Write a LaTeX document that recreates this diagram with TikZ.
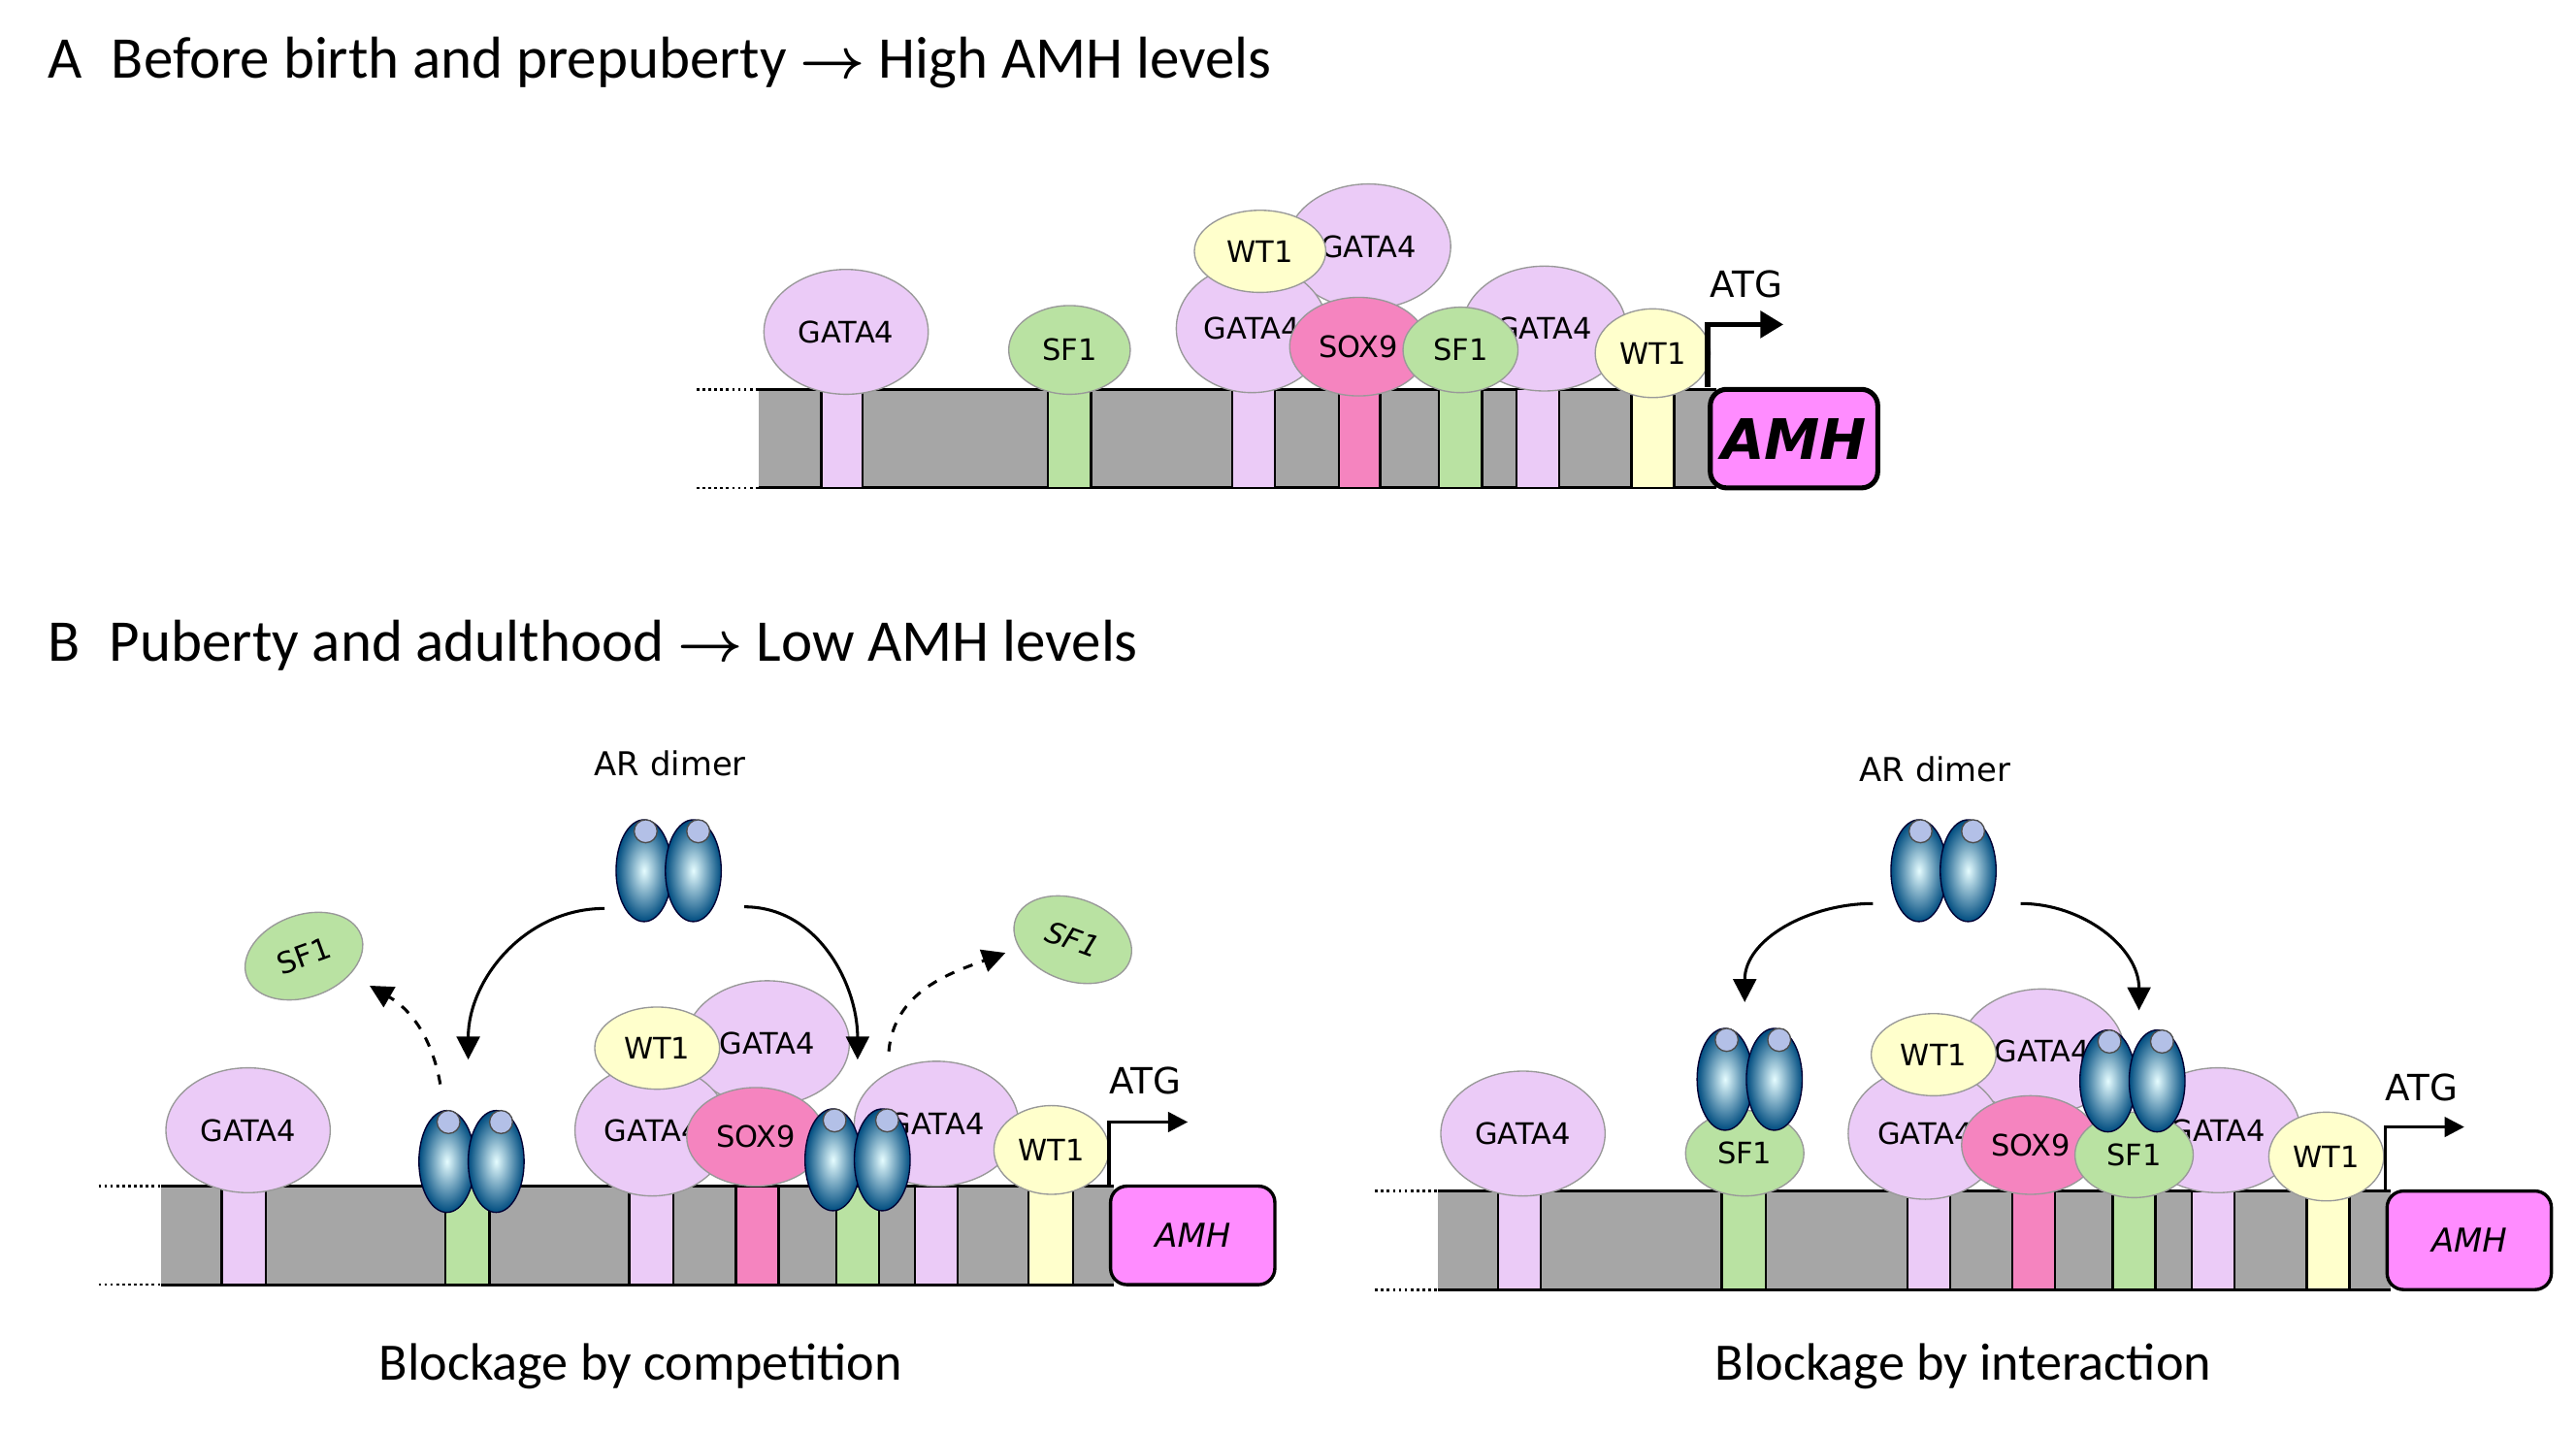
\documentclass[tikz,border=0pt]{standalone}
\usepackage{amsmath}
\usepackage{fontspec}
\setmainfont{Carlito}
\newfontfamily\lab{DejaVu Sans}
\usetikzlibrary{shapes.geometric,arrows.meta,positioning}
\definecolor{lav}{HTML}{EBCBF7}
\definecolor{grn}{HTML}{B9E2A2}
\definecolor{pnk}{HTML}{F584BF}
\definecolor{ylw}{HTML}{FFFFCC}
\definecolor{dna}{HTML}{A6A6A6}
\definecolor{amh}{HTML}{FF8CFF}
\tikzset{
  prot/.style={ellipse, draw=black!40, fill=#1, inner sep=0pt, font=\lab\fontsize{9}{10}\selectfont},
  site/.style={draw=black, fill=#1, line width=0.7pt},
  arsub/.style={ellipse, draw=black!80!blue, minimum width=17pt, minimum height=31pt, inner sep=0pt,
    inner color=blue!10!cyan!10, outer color=blue!40!cyan!50!black},
  arcap/.style={circle, draw=black!70, fill=cyan!40!blue!30, minimum size=7pt, inner sep=0pt},
  move/.style={-{Triangle[length=7pt,width=7pt]}, line width=0.9pt},
  title/.style={anchor=west, font=\fontsize{18}{20}\selectfont},
  caption/.style={font=\fontsize{16}{18}\selectfont}
}
% protein: name, colour, x, y, rx, ry, text
\newcommand\prt[7]{\node[prot=#2, minimum width=#5pt, minimum height=#6pt] (#1) at (#3,#4) {#7};}
% binding site on the DNA bar: x left, x right, colour, top, bottom
\newcommand\site[5]{\draw[site=#3] (#1,#4) rectangle (#2,#5);}
% AR dimer: name, x, y
\newcommand\ardimer[3]{%
  \node[arsub] (#1l) at (#2-15,#3) {};
  \node[arsub] (#1r) at (#2+15,#3) {};
  \node[arcap] at (#2-14,#3-24) {};
  \node[arcap] at (#2+18,#3-24) {};
  \coordinate (#1) at (#2,#3);}
% DNA bar: x left, x right, top, bottom
\newcommand\dnabar[4]{%
  \fill[dna] (#1,#3) rectangle (#2,#4);
  \draw[line width=0.9pt] (#1,#3) -- (#2,#3) (#1,#4) -- (#2,#4);
  \draw[densely dotted, line width=0.8pt] (#1-38,#3) -- (#1,#3) (#1-38,#4) -- (#1,#4);}
\begin{document}
\begin{tikzpicture}[x=0.5pt,y=-0.5pt]
\useasboundingbox[fill=white] (0,0) rectangle (1568,872);

%% ---- panel A
\node[title] (tA) at (22,38) {A\enspace Before birth and prepuberty $\boldsymbol{\rightarrow}$ High AMH levels};
\dnabar{462}{1045}{237}{297}
\site{500}{525}{lav}{237}{297}
\site{638}{664}{grn}{237}{297}
\site{750}{776}{lav}{237}{297}
\site{815}{840}{pnk}{237}{297}
\site{876}{902}{grn}{237}{297}
\site{923}{949}{lav}{237}{297}
\site{993}{1019}{ylw}{237}{297}
\node[draw, line width=1.5pt, rounded corners=5pt, fill=amh, minimum width=50pt, minimum height=30pt,
  font=\lab\bfseries\itshape\fontsize{17}{18}\selectfont] (amhA) at (1092,267) {AMH};
\prt{gA1}{lav}{515}{202}{50}{38}{GATA4}
\prt{sA1}{grn}{651}{213}{37}{27}{SF1}
\prt{gA2}{lav}{833}{150}{50}{38}{GATA4}
\prt{gA3}{lav}{762}{200}{46}{39}{GATA4}
\prt{wA1}{ylw}{767}{153}{40}{25}{WT1}
\prt{gA4}{lav}{940}{200}{50}{38}{GATA4}
\prt{xA}{pnk}{827}{211}{42}{30}{SOX9}
\prt{sA2}{grn}{889}{213}{35}{26}{SF1}
\prt{wA2}{ylw}{1006}{215}{35}{27}{WT1}
\node[font=\lab\fontsize{11}{12}\selectfont] (atgA) at (1063,173) {ATG};
\draw[-{Triangle[length=7pt,width=8pt]}, line width=1.6pt] (amhA.north west) -- ++(0,-38) -- ++(46,0);

%% ---- panel B
\node[title] (tB) at (22,393) {B\enspace Puberty and adulthood $\boldsymbol{\rightarrow}$ Low AMH levels};

% competition
\dnabar{98}{678}{722}{782}
\site{135}{162}{lav}{722}{782}
\site{271}{298}{grn}{722}{782}
\site{383}{410}{lav}{722}{782}
\site{448}{474}{pnk}{722}{782}
\site{509}{535}{grn}{722}{782}
\site{557}{583}{lav}{722}{782}
\site{626}{653}{ylw}{722}{782}
\node[draw, line width=1pt, rounded corners=5pt, fill=amh, minimum width=50pt, minimum height=30pt,
  font=\lab\itshape\fontsize{10}{12}\selectfont] (amhB) at (726,752) {AMH};
\prt{gB1}{lav}{151}{688}{50}{38}{GATA4}
\ardimer{arB1}{287}{707}
\prt{gB2}{lav}{467}{635}{50}{38}{GATA4}
\prt{gB3}{lav}{397}{688}{47}{40}{GATA4}
\prt{wB1}{ylw}{400}{638}{38}{25}{WT1}
\prt{gB4}{lav}{570}{684}{50}{38}{GATA4}
\prt{xB}{pnk}{460}{692}{42}{30}{SOX9}
\ardimer{arB2}{522}{706}
\prt{wB2}{ylw}{640}{700}{35}{27}{WT1}
\node[font=\lab\fontsize{11}{12}\selectfont] (atgB) at (697,658) {ATG};
\draw[-{Triangle[length=6pt,width=6pt]}, line width=1pt] (amhB.north west) -- ++(0,-38) -- ++(48,0);
\node[font=\lab\fontsize{10}{12}\selectfont] (arlB) at (408,465) {AR dimer};
\ardimer{arB}{407}{530}
\node[prot=grn, minimum width=37pt, minimum height=25pt, rotate=20] (fB1) at (185,582) {SF1};
\node[prot=grn, minimum width=37pt, minimum height=25pt, rotate=-20, font=\lab\itshape\fontsize{9}{10}\selectfont] (fB2) at (653,572) {SF1};
\coordinate (c1) at (368,553);
\coordinate (c2) at (453,552);
\draw[move] (c1) to[out=180,in=90] (285,645);
\draw[move] (c2) to[out=0,in=90] (522,645);
\coordinate (d1) at (268,660);
\coordinate (d2) at (541,640);
\draw[move, dashed] (d1) to[out=100,in=-30] (225,600);
\draw[move, dashed] (d2) to[out=85,in=200] (612,580);
\node[caption] (capB1) at (390,832) {Blockage by competition};

% interaction
\dnabar{875}{1455}{725}{785}
\site{912}{938}{lav}{725}{785}
\site{1048}{1075}{grn}{725}{785}
\site{1161}{1187}{lav}{725}{785}
\site{1225}{1251}{pnk}{725}{785}
\site{1286}{1312}{grn}{725}{785}
\site{1334}{1360}{lav}{725}{785}
\site{1404}{1430}{ylw}{725}{785}
\node[draw, line width=1pt, rounded corners=5pt, fill=amh, minimum width=50pt, minimum height=30pt,
  font=\lab\itshape\fontsize{10}{12}\selectfont] (amhC) at (1503,755) {AMH};
\prt{gC1}{lav}{927}{690}{50}{38}{GATA4}
\prt{sC1}{grn}{1062}{702}{36}{26}{SF1}
\ardimer{arC1}{1065}{657}
\prt{gC2}{lav}{1243}{640}{50}{38}{GATA4}
\prt{gC3}{lav}{1172}{690}{47}{40}{GATA4}
\prt{wC1}{ylw}{1177}{642}{38}{25}{WT1}
\prt{gC4}{lav}{1350}{688}{50}{38}{GATA4}
\prt{xC}{pnk}{1236}{697}{42}{30}{SOX9}
\prt{sC2}{grn}{1299}{703}{36}{26}{SF1}
\ardimer{arC2}{1298}{658}
\prt{wC2}{ylw}{1416}{704}{35}{27}{WT1}
\node[font=\lab\fontsize{11}{12}\selectfont] (atgC) at (1474,662) {ATG};
\draw[-{Triangle[length=6pt,width=6pt]}, line width=1pt] (amhC.north west) -- ++(0,-38) -- ++(48,0);
\node[font=\lab\fontsize{10}{12}\selectfont] (arlC) at (1178,468) {AR dimer};
\ardimer{arC}{1183}{530}
\coordinate (e1) at (1140,550);
\coordinate (e2) at (1230,550);
\draw[move] (e1) to[out=180,in=90] (1062,610);
\draw[move] (e2) to[out=0,in=90] (1302,615);
\node[caption] (capC) at (1195,832) {Blockage by interaction};
\end{tikzpicture}
\end{document}
